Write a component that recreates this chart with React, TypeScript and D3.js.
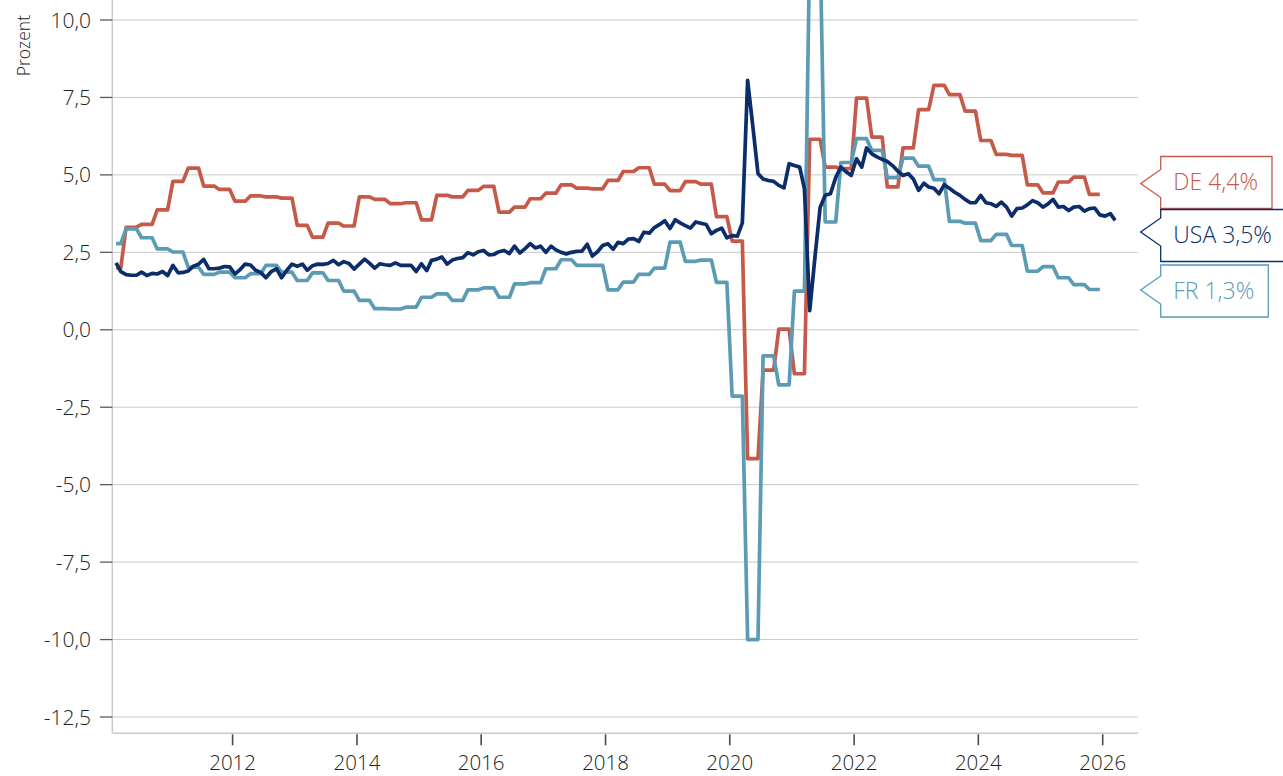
import React, { useEffect, useRef } from 'react';
import * as d3 from 'd3';

const W = 1283;
const H = 776;

// USA: monthly values, Feb 2010 – Mar 2026 (percent)
const usaFirstMonth = { year: 2010, month: 1 }; // month index 1 = February
const usaValues = [
  // 2010 (Feb–Dec)
  2.16, 1.88, 1.78, 1.76, 1.76, 1.86, 1.75, 1.82, 1.80, 1.88, 1.75,
  // 2011
  2.08, 1.84, 1.85, 1.90, 2.05, 2.12, 2.27, 1.97, 1.97, 1.99, 2.04, 2.03,
  // 2012
  1.80, 1.95, 2.12, 2.09, 1.92, 1.85, 1.68, 1.88, 1.97, 1.68, 1.92, 2.12,
  // 2013
  2.05, 2.12, 1.92, 2.07, 2.12, 2.11, 2.14, 2.24, 2.10, 2.20, 2.14, 1.96,
  // 2014
  2.12, 2.28, 2.15, 1.99, 2.13, 2.10, 2.08, 2.16, 2.08, 2.08, 2.08, 1.88,
  // 2015
  2.13, 1.91, 2.24, 2.28, 2.35, 2.12, 2.25, 2.30, 2.33, 2.49, 2.42, 2.52,
  // 2016
  2.56, 2.42, 2.43, 2.52, 2.56, 2.46, 2.70, 2.48, 2.62, 2.78, 2.64, 2.70,
  // 2017
  2.50, 2.70, 2.58, 2.50, 2.45, 2.50, 2.53, 2.54, 2.76, 2.38, 2.52, 2.72,
  // 2018
  2.78, 2.60, 2.82, 2.78, 2.93, 2.94, 2.85, 3.15, 3.12, 3.30, 3.40, 3.52,
  // 2019
  3.27, 3.55, 3.45, 3.36, 3.28, 3.48, 3.44, 3.40, 3.10, 3.21, 3.28, 2.97,
  // 2020
  3.04, 3.02, 3.45, 8.05, 6.60, 5.04, 4.87, 4.82, 4.79, 4.66, 4.58, 5.36,
  // 2021
  5.30, 5.25, 4.55, 0.62, 2.30, 3.95, 4.34, 4.39, 4.92, 5.25, 5.10, 4.98,
  // 2022
  5.52, 5.25, 5.87, 5.68, 5.58, 5.50, 5.43, 5.30, 5.12, 4.98, 5.04, 4.87,
  // 2023
  4.50, 4.73, 4.61, 4.57, 4.39, 4.68, 4.57, 4.44, 4.34, 4.21, 4.10, 4.10,
  // 2024
  4.34, 4.10, 4.07, 3.98, 4.12, 3.96, 3.67, 3.91, 3.93, 4.03, 4.17, 4.10,
  // 2025
  3.96, 4.07, 4.21, 3.96, 3.98, 3.85, 3.96, 3.98, 3.83, 3.91, 3.93, 3.71,
  // 2026 (Jan–Mar)
  3.67, 3.75, 3.53,
];

// DE and FR: quarterly values Q1 2010 – Q4 2025 (shown on the monthly axis from Feb 2010)
const quarterFirstYear = 2010;
const deValues = [
  2.0, 3.31, 3.40, 3.87,
  4.79, 5.22, 4.64, 4.53,
  4.15, 4.32, 4.29, 4.25,
  3.37, 2.99, 3.44, 3.35,
  4.29, 4.21, 4.07, 4.10,
  3.55, 4.34, 4.29, 4.50,
  4.63, 3.80, 3.96, 4.23,
  4.41, 4.68, 4.57, 4.55,
  4.82, 5.11, 5.23, 4.70,
  4.49, 4.78, 4.70, 3.65,
  2.86, -4.16, -1.30, 0.02,
  -1.42, 6.15, 5.25, 5.20,
  7.48, 6.22, 4.61, 5.87,
  7.11, 7.89, 7.59, 7.06,
  6.11, 5.66, 5.63, 4.68,
  4.42, 4.77, 4.93, 4.37,
];
const frValues = [
  2.78, 3.26, 2.97, 2.61,
  2.51, 2.02, 1.79, 1.86,
  1.68, 1.81, 2.08, 1.86,
  1.59, 1.84, 1.59, 1.25,
  0.95, 0.68, 0.67, 0.73,
  1.05, 1.16, 0.95, 1.29,
  1.35, 1.05, 1.48, 1.52,
  1.97, 2.26, 2.08, 2.08,
  1.29, 1.54, 1.79, 1.99,
  2.83, 2.21, 2.25, 1.53,
  -2.14, -10.0, -0.84, -1.78,
  1.25, 12.5, 3.48, 5.40,
  6.17, 5.79, 4.91, 5.54,
  5.28, 4.85, 3.50, 3.44,
  2.88, 3.08, 2.72, 1.89,
  2.04, 1.68, 1.46, 1.30,
];

const seriesNames = ['DE', 'USA', 'FR'];
const seriesColors: Record<string, string> = {
  DE: '#c65a49',
  USA: '#0b2e6b',
  FR: '#5b9bb4',
};

const yTicks = [10, 7.5, 5, 2.5, 0, -2.5, -5, -7.5, -10, -12.5];
const xTickYears = [2012, 2014, 2016, 2018, 2020, 2022, 2024, 2026];
const yAxisTitle = 'Prozent';

export default function App() {
  const ref = useRef<SVGSVGElement>(null);

  useEffect(() => {
    const svg = d3.select(ref.current);
    svg.selectAll('*').remove();

    const font = "'Open Sans', 'Segoe UI', 'Noto Sans', sans-serif";
    const plot = { left: 112.3, right: 1138, top: 0, bottom: 733.3 };
    const textW = 300;
    const textCol = '#222';

    const x = d3
      .scaleTime()
      .domain([new Date(2010, 0, 1), new Date(2026, 0, 1)])
      .range([108.4, 1102.7]);
    const y = d3.scaleLinear().domain([-12.5, 10]).range([717, 20]);

    const locale = d3.formatLocale({
      decimal: ',',
      thousands: '.',
      grouping: [3],
      currency: ['', '€'],
      minus: '-',
    });
    const fmt = locale.format('.1f');

    // Gridlines
    svg
      .append('g')
      .selectAll('line')
      .data(yTicks)
      .join('line')
      .attr('x1', plot.left)
      .attr('x2', plot.right)
      .attr('y1', (d) => y(d))
      .attr('y2', (d) => y(d))
      .attr('stroke', '#c9c9c9')
      .attr('stroke-width', 1);

    // Axis lines
    svg
      .append('line')
      .attr('x1', plot.left)
      .attr('x2', plot.left)
      .attr('y1', plot.top)
      .attr('y2', plot.bottom)
      .attr('stroke', '#c9c9c9')
      .attr('stroke-width', 1.5);
    svg
      .append('line')
      .attr('x1', plot.left)
      .attr('x2', plot.right)
      .attr('y1', plot.bottom)
      .attr('y2', plot.bottom)
      .attr('stroke', '#c9c9c9')
      .attr('stroke-width', 1.5);

    // Y ticks + labels
    const yg = svg.append('g');
    yg.selectAll('line')
      .data(yTicks)
      .join('line')
      .attr('x1', 100)
      .attr('x2', plot.left)
      .attr('y1', (d) => y(d))
      .attr('y2', (d) => y(d))
      .attr('stroke', '#5a5a5a')
      .attr('stroke-width', 1.3);
    yg.selectAll('text')
      .data(yTicks)
      .join('text')
      .attr('x', 91)
      .attr('y', (d) => y(d) + 7.5)
      .attr('text-anchor', 'end')
      .attr('font-family', font)
      .attr('font-weight', textW)
      .attr('font-size', 21)
      .attr('fill', textCol)
      .text((d) => fmt(d));

    // Y title
    svg
      .append('text')
      .attr('transform', 'translate(29.5,15) rotate(-90)')
      .attr('text-anchor', 'end')
      .attr('font-family', font)
      .attr('font-weight', textW)
      .attr('font-size', 17.5)
      .attr('fill', textCol)
      .text(yAxisTitle);

    // X ticks + labels
    const xg = svg.append('g');
    xg.selectAll('line')
      .data(xTickYears)
      .join('line')
      .attr('x1', (d) => x(new Date(d, 0, 1)))
      .attr('x2', (d) => x(new Date(d, 0, 1)))
      .attr('y1', plot.bottom + 1)
      .attr('y2', plot.bottom + 12)
      .attr('stroke', '#4a4a4a')
      .attr('stroke-width', 1.6);
    xg.selectAll('text')
      .data(xTickYears)
      .join('text')
      .attr('x', (d) => x(new Date(d, 0, 1)))
      .attr('y', 769.5)
      .attr('text-anchor', 'middle')
      .attr('font-family', font)
      .attr('font-weight', textW)
      .attr('font-size', 20.5)
      .attr('fill', textCol)
      .text((d) => String(d));

    // Series data
    const usa = usaValues.map((v, i) => ({
      date: new Date(usaFirstMonth.year, usaFirstMonth.month + i, 15),
      value: v,
    }));
    const quarterly = (vals: number[]) => {
      const pts: { date: Date; value: number }[] = [];
      vals.forEach((v, q) => {
        const firstMonth = Math.max(q * 3, 1); // data begin in Feb 2010
        const lastMonth = q * 3 + 2;
        pts.push({ date: new Date(quarterFirstYear, firstMonth, 15), value: v });
        pts.push({ date: new Date(quarterFirstYear, lastMonth, 15), value: v });
      });
      return pts;
    };
    const data: Record<string, { date: Date; value: number }[]> = {
      DE: quarterly(deValues),
      FR: quarterly(frValues),
      USA: usa,
    };

    svg
      .append('clipPath')
      .attr('id', 'plotclip')
      .append('rect')
      .attr('x', plot.left)
      .attr('y', plot.top)
      .attr('width', plot.right - plot.left)
      .attr('height', plot.bottom - plot.top);

    const line = d3
      .line<{ date: Date; value: number }>()
      .x((d) => x(d.date))
      .y((d) => y(d.value));

    const lg = svg.append('g').attr('clip-path', 'url(#plotclip)');
    ['DE', 'FR', 'USA'].forEach((name) => {
      lg.append('path')
        .attr('d', line(data[name]))
        .attr('fill', 'none')
        .attr('stroke', seriesColors[name])
        .attr('stroke-width', 3.7)
        .attr('stroke-linejoin', 'round')
        .attr('stroke-linecap', 'butt');
    });

    // End labels (boxes with pointers)
    const labelLayout: Record<string, { top: number; tip: number }> = {
      DE: { top: 156.5, tip: 183.5 },
      USA: { top: 209.5, tip: 232 },
      FR: { top: 265, tip: 290 },
    };
    const boxH = 52;
    const boxL = 1160.7;
    const arrowW = 20;
    const arrowHalf = 14;
    const labG = svg.append('g');
    seriesNames.forEach((name) => {
      const vals = data[name];
      const last = vals[vals.length - 1].value;
      const label = `${name} ${fmt(last)}%`;
      const { top, tip } = labelLayout[name];
      const g = labG.append('g');
      const path = g.append('path');
      const t = g
        .append('text')
        .attr('x', boxL + 12.6)
        .attr('y', top + boxH / 2 + 7.5)
        .attr('font-family', font)
        .attr('font-weight', textW)
        .attr('font-size', 23)
        .attr('fill', seriesColors[name])
        .text(label);
      const tw = (t.node() as SVGTextElement).getComputedTextLength();
      const R = boxL + 12.6 + tw + 14;
      const B = top + boxH;
      path
        .attr(
          'd',
          `M${boxL},${top}H${R}V${B}H${boxL}V${tip + arrowHalf}L${boxL - arrowW},${tip}L${boxL},${tip - arrowHalf}Z`
        )
        .attr('fill', '#fff')
        .attr('stroke', seriesColors[name])
        .attr('stroke-width', 1.3);
    });
  }, []);

  return (
    <svg
      ref={ref}
      width={W}
      height={H}
      style={{ position: 'absolute', left: 0, top: 0, display: 'block', background: '#fff' }}
    />
  );
}
